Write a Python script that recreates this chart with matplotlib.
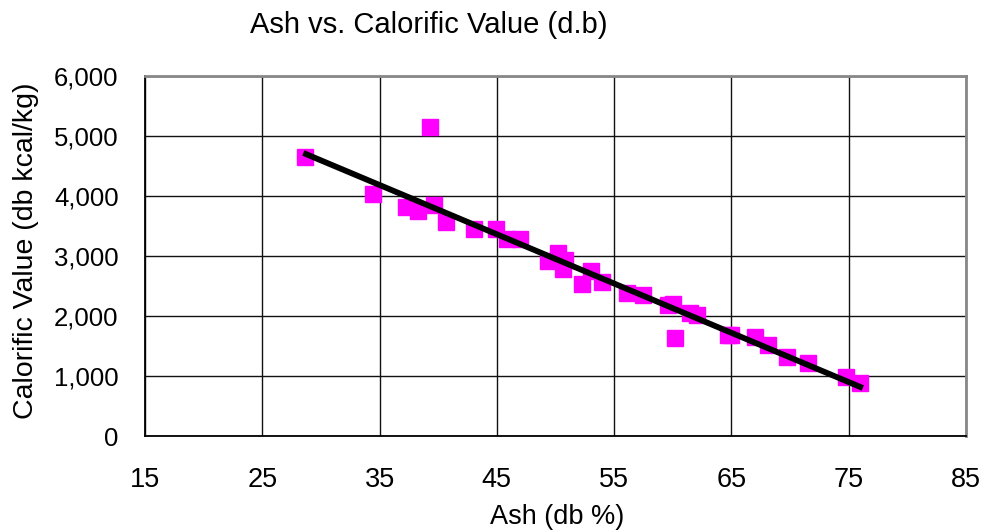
import matplotlib
matplotlib.use("Agg")
import matplotlib.pyplot as plt
from matplotlib.ticker import FuncFormatter

ash = [28.6, 39.3, 34.4, 37.25, 38.3, 39.6, 40.7, 43.05, 44.9, 45.9, 47.0,
       50.2, 49.4, 50.8, 50.6, 53.0, 52.3, 54.0, 56.1, 57.5, 59.6, 60.0,
       60.2, 61.5, 62.1, 64.7, 65.0, 67.0, 68.1, 69.7, 71.5, 74.8, 76.0]
cv = [4650, 5150, 4033, 3817, 3750, 3850, 3567, 3450, 3450, 3283, 3283,
      3050, 2917, 2930, 2783, 2750, 2533, 2567, 2383, 2350, 2183, 2200,
      1633, 2050, 2017, 1683, 1683, 1650, 1517, 1317, 1217, 983, 883]
trend_x = [28.5, 76.2]
trend_y = [4717, 800]
x_ticks = [15, 25, 35, 45, 55, 65, 75, 85]
y_ticks = [0, 1000, 2000, 3000, 4000, 5000, 6000]

font = 'Liberation Sans'
W, H = 982, 531

fig = plt.figure(figsize=(9.82, 5.31), dpi=100)
ax = fig.add_axes([145 / W, 1 - 436 / H, 821 / W, 360 / H])

ax.plot(ash, cv, linestyle='none', marker='s', markersize=11,
        color='#ff00ff', zorder=3)
ax.plot(trend_x, trend_y, color='black', linewidth=4.2, zorder=4,
        solid_capstyle='butt')

ax.set_xlim(15, 85)
ax.set_ylim(0, 6000)
ax.set_xticks(x_ticks)
ax.set_yticks(y_ticks)
ax.yaxis.set_major_formatter(FuncFormatter(lambda v, p: f"{int(v):,}"))
ax.grid(True, color='#111111', linewidth=1)
ax.set_axisbelow(True)

for lab in ax.get_xticklabels():
    lab.set_fontfamily(font)
    lab.set_fontsize(19.5)
for lab in ax.get_yticklabels():
    lab.set_fontfamily(font)
    lab.set_fontsize(18.5)
ax.tick_params(axis='both', length=0)
ax.tick_params(axis='x', pad=22)
ax.tick_params(axis='y', pad=19)

for s in ['left', 'bottom']:
    ax.spines[s].set_color('black')
    ax.spines[s].set_linewidth(1.3)
for s in ['top', 'right']:
    ax.spines[s].set_color('#888888')
    ax.spines[s].set_linewidth(2)

fig.text(557 / W, 1 - 524 / H, 'Ash (db %)', fontfamily=font,
         fontsize=19.5, ha='center', va='baseline')
fig.text(33 / W, 1 - 251 / H, 'Calorific Value (db kcal/kg)', fontfamily=font,
         fontsize=20.5, ha='center', va='baseline', rotation=90,
         rotation_mode='anchor')
fig.text(428.5 / W, 1 - 33 / H, 'Ash vs. Calorific Value (d.b)', fontfamily=font,
         fontsize=21, ha='center', va='baseline')

fig.savefig('out.png', dpi=100)
